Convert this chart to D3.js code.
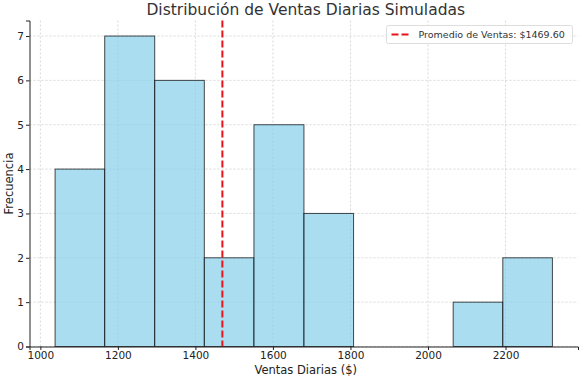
<!DOCTYPE html>
<html lang="es">
<head>
<meta charset="utf-8">
<script src="https://cdn.jsdelivr.net/npm/d3@7/dist/d3.min.js"></script>
<style>
html, body { margin: 0; padding: 0; background: #fff; }
#chart { width: 580px; height: 377px; }
text { font-family: "DejaVu Sans", sans-serif; }
</style>
</head>
<body>
<div id="chart"></div>
<script>
var binEdges = [1038, 1166, 1295, 1423, 1551, 1680, 1808, 1936, 2065, 2193, 2321];
var counts = [4, 7, 6, 2, 5, 3, 0, 0, 1, 2];
var meanValue = 1469.60;
var xTicks = [1000, 1200, 1400, 1600, 1800, 2000, 2200];
var yTicks = [0, 1, 2, 3, 4, 5, 6, 7];

var width = 580, height = 377;
var margin = {left: 29.5, top: 20.5, right: 2, bottom: 30.5};
var plotWidth = width - margin.left - margin.right;
var plotHeight = height - margin.top - margin.bottom;

var svg = d3.select("#chart").append("svg")
    .attr("width", width)
    .attr("height", height);

var g = svg.append("g")
    .attr("transform", "translate(" + [margin.left, margin.top] + ")");

var xScale = d3.scaleLinear().domain([972, 2387]).range([0, plotWidth]);
var yScale = d3.scaleLinear().domain([0, 7.35]).range([plotHeight, 0]);

// grid
var grid = g.append("g").attr("class", "grid");
grid.selectAll(".gx").data(xTicks).enter().append("line")
    .attr("x1", function(d){ return xScale(d); })
    .attr("x2", function(d){ return xScale(d); })
    .attr("y1", 0).attr("y2", plotHeight)
    .attr("stroke", "#cfcfcf").attr("stroke-width", 0.8)
    .attr("stroke-dasharray", "2,2");
grid.selectAll(".gy").data(yTicks).enter().append("line")
    .attr("y1", function(d){ return yScale(d); })
    .attr("y2", function(d){ return yScale(d); })
    .attr("x1", 0).attr("x2", plotWidth)
    .attr("stroke", "#cfcfcf").attr("stroke-width", 0.8)
    .attr("stroke-dasharray", "2,2");

// barras
var bins = counts.map(function(c, i){
    return {x0: binEdges[i], x1: binEdges[i + 1], count: c};
}).filter(function(d){ return d.count > 0; });

g.selectAll(".bar").data(bins).enter().append("rect")
    .attr("class", "bar")
    .attr("x", function(d){ return xScale(d.x0); })
    .attr("width", function(d){ return xScale(d.x1) - xScale(d.x0); })
    .attr("y", function(d){ return yScale(d.count); })
    .attr("height", function(d){ return plotHeight - yScale(d.count); })
    .attr("fill", "#87ceeb").attr("fill-opacity", 0.7)
    .attr("stroke", "#000").attr("stroke-opacity", 0.7)
    .attr("stroke-width", 1);

// linea del promedio
g.append("line")
    .attr("x1", xScale(meanValue)).attr("x2", xScale(meanValue))
    .attr("y1", 0).attr("y2", plotHeight)
    .attr("stroke", "#e8141c").attr("stroke-width", 2)
    .attr("stroke-dasharray", "7,3");

// ejes
var xAxis = g.append("g")
    .attr("transform", "translate(0," + plotHeight + ")")
    .call(d3.axisBottom(xScale).tickValues(xTicks).tickFormat(d3.format("d"))
        .tickSize(3.5).tickPadding(2));
var yAxis = g.append("g")
    .call(d3.axisLeft(yScale).tickValues(yTicks).tickFormat(d3.format("d"))
        .tickSize(3.5).tickPadding(2));

[xAxis, yAxis].forEach(function(a){
    a.select(".domain").attr("stroke", "#222").attr("stroke-width", 1);
    a.selectAll(".tick line").attr("stroke", "#222");
    a.selectAll(".tick text").attr("fill", "#222")
        .style("font-size", "10.5px").style("font-family", "DejaVu Sans, sans-serif");
});

// titulo y etiquetas
svg.append("text")
    .attr("x", margin.left + plotWidth / 2 + 2).attr("y", 15)
    .attr("text-anchor", "middle")
    .attr("fill", "#333").style("font-size", "15.5px")
    .text("Distribución de Ventas Diarias Simuladas");

svg.append("text")
    .attr("x", margin.left + plotWidth / 2 + 2).attr("y", 374)
    .attr("text-anchor", "middle")
    .attr("fill", "#222").style("font-size", "11.5px")
    .text("Ventas Diarias ($)");

svg.append("text")
    .attr("transform", "translate(13," + (margin.top + plotHeight / 2) + ") rotate(-90)")
    .attr("text-anchor", "middle")
    .attr("fill", "#222").style("font-size", "11.5px")
    .text("Frecuencia");

// leyenda
var legend = svg.append("g").attr("transform", "translate(386.5,25.5)");
legend.append("rect")
    .attr("width", 186).attr("height", 18).attr("rx", 2)
    .attr("fill", "#fff").attr("fill-opacity", 0.8)
    .attr("stroke", "#ddd");
legend.append("line")
    .attr("x1", 5).attr("x2", 24).attr("y1", 9).attr("y2", 9)
    .attr("stroke", "#e8141c").attr("stroke-width", 2)
    .attr("stroke-dasharray", "7,3");
legend.append("text")
    .attr("x", 32).attr("y", 12.5)
    .attr("fill", "#333").style("font-size", "9.5px")
    .text("Promedio de Ventas: $" + meanValue.toFixed(2));
</script>
</body>
</html>
